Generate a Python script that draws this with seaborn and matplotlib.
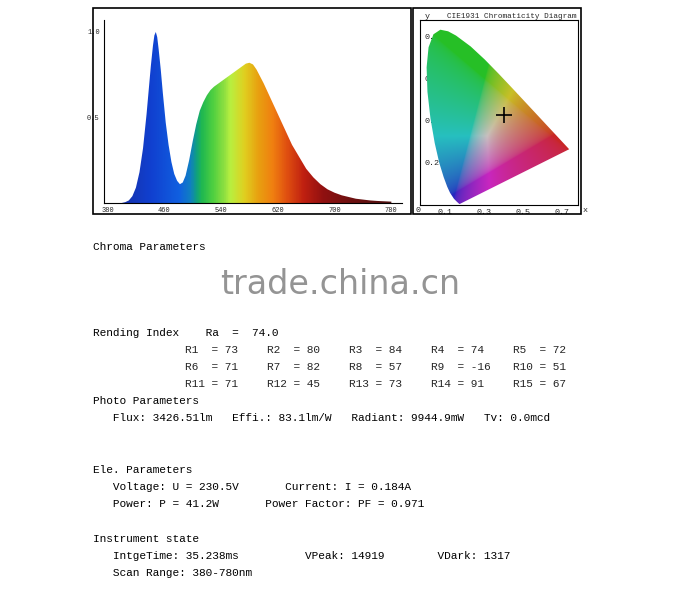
import numpy as np
import matplotlib
matplotlib.use("Agg")
import matplotlib.pyplot as plt
import seaborn as sns
from matplotlib.colors import LinearSegmentedColormap
from matplotlib.path import Path
from matplotlib.patches import Rectangle, PathPatch

sns.set_theme(style="white")
plt.rcParams['font.family'] = ['Liberation Mono', 'DejaVu Sans Mono']

# spectrum (relative intensity)
wavelength = [380, 400, 405, 410, 415, 420, 425, 430, 435, 438, 441, 444, 446, 448, 450, 452, 455, 458, 462,
              466, 470, 474, 478, 482, 486, 490, 495, 500, 505, 510, 515, 520, 525, 530, 540, 550, 560,
              570, 575, 580, 585, 590, 595, 600, 610, 620, 630, 640, 650, 660, 670, 680, 690, 700, 710,
              720, 730, 740, 750, 760, 770, 780]
intensity = [0.0, 0.0, 0.005, 0.015, 0.04, 0.09, 0.18, 0.32, 0.52, 0.66, 0.80, 0.92, 0.98, 1.0, 0.97, 0.90,
             0.78, 0.64, 0.47, 0.34, 0.24, 0.17, 0.13, 0.11, 0.12, 0.16, 0.25, 0.36, 0.46, 0.54, 0.59, 0.63,
             0.66, 0.68, 0.71, 0.74, 0.77, 0.80, 0.815, 0.82, 0.81, 0.78, 0.74, 0.70, 0.61, 0.52, 0.43, 0.34,
             0.27, 0.20, 0.15, 0.11, 0.08, 0.06, 0.045, 0.035, 0.025, 0.02, 0.015, 0.012, 0.01, 0.008]
spec_ticks = [380, 460, 540, 620, 700, 780]

# CIE 1931 spectral locus
locus_x = [0.1741, 0.1714, 0.1644, 0.1566, 0.1440, 0.1241, 0.1096, 0.0913, 0.0687, 0.0454, 0.0235, 0.0082,
           0.0039, 0.0139, 0.0389, 0.0743, 0.1142, 0.1547, 0.2296, 0.3016, 0.3731, 0.4441, 0.5125, 0.5752,
           0.6270, 0.6915, 0.7190, 0.7347]
locus_y = [0.0050, 0.0051, 0.0109, 0.0177, 0.0297, 0.0578, 0.0868, 0.1327, 0.2007, 0.2950, 0.4127, 0.5384,
           0.6548, 0.7502, 0.8120, 0.8338, 0.8262, 0.8059, 0.7543, 0.6923, 0.6245, 0.5547, 0.4866, 0.4242,
           0.3725, 0.3083, 0.2809, 0.2653]
point_xy = (0.40, 0.43)

fig = plt.figure(figsize=(6.8, 5.93), dpi=100)
W, H = 680, 593
def ax_at(l, t, r, b):
    return fig.add_axes([l / W, 1 - b / H, (r - l) / W, (b - t) / H])

for (l, t, r, b) in [(93, 8, 411, 214), (413, 8, 581, 214)]:
    fig.patches.append(Rectangle((l / W, 1 - b / H), (r - l) / W, (b - t) / H, transform=fig.transFigure,
                                 fill=False, ec='black', lw=1.2))

# spectrum
ax = ax_at(104, 20, 402, 203)
cmap = LinearSegmentedColormap.from_list('spec', [
    (0.0, '#1a2a9a'), (0.15, '#1040d0'), (0.25, '#1060e0'), (0.29, '#1080c0'), (0.31, '#10a080'),
    (0.33, '#20b850'), (0.37, '#50d040'), (0.41, '#90e040'), (0.43, '#b8f040'), (0.48, '#e0d020'),
    (0.53, '#e8a010'), (0.58, '#f08010'), (0.63, '#e05010'), (0.69, '#c02010'), (0.76, '#901010'),
    (0.85, '#701010'), (1.0, '#501010')])
grad = np.linspace(0, 1, 400).reshape(1, -1)
img = ax.imshow(grad, extent=[380, 780, 0, 1.07], aspect='auto', cmap=cmap, zorder=1)
clip = Path(np.vstack([np.column_stack([wavelength, intensity]), [[780, 0], [380, 0]]]))
pp = PathPatch(clip, transform=ax.transData, fc='none', ec='none')
ax.add_patch(pp)
img.set_clip_path(pp)
ax.set_xlim(375, 795)
ax.set_ylim(0, 1.07)
ax.set_xticks(spec_ticks)
ax.set_xticklabels([str(t) for t in spec_ticks], fontsize=5)
ax.set_yticks([0.5, 1.0])
ax.set_yticklabels(['0.5', '1.0'], fontsize=5)
ax.tick_params(length=2, pad=1)
for s in ['top', 'right']:
    ax.spines[s].set_visible(False)
for s in ['left', 'bottom']:
    ax.spines[s].set_color('black'); ax.spines[s].set_linewidth(0.8)

# CIE diagram
cx = ax_at(420, 20, 578, 205)
xs = np.linspace(0, 0.8, 300); ys = np.linspace(0.001, 0.9, 300)
X, Y = np.meshgrid(xs, ys)
Xc = X / Y; Zc = (1 - X - Y) / Y
R = 3.2406 * Xc - 1.5372 - 0.4986 * Zc
G = -0.9689 * Xc + 1.8758 + 0.0415 * Zc
B = 0.0557 * Xc - 0.2040 + 1.0570 * Zc
rgb = np.clip(np.stack([R, G, B], -1), 0, None)
rgb = rgb / rgb.max(axis=-1, keepdims=True).clip(1e-6)
rgb = np.clip(rgb, 0, 1) ** (1 / 2.2)
rgb = 0.75 * rgb * np.array([0.85, 0.8, 0.8]) + 0.25 * np.array([0.6, 0.6, 0.6])
im2 = cx.imshow(rgb, extent=[0, 0.8, 0.001, 0.9], origin='lower', aspect='auto', zorder=1)
lp = PathPatch(Path(np.column_stack([locus_x, locus_y])), transform=cx.transData, fc='none', ec='none')
cx.add_patch(lp)
im2.set_clip_path(lp)
cx.plot(point_xy[0], point_xy[1], marker='+', ms=12, mew=1.2, color='black', zorder=3)
cx.set_xlim(-0.03, 0.78); cx.set_ylim(0.0, 0.88)
cx.set_xticks([0.1, 0.3, 0.5, 0.7]); cx.set_xticklabels(['0.1', '0.3', '0.5', '0.7'], fontsize=6)
cx.set_yticks([0.2, 0.4, 0.6, 0.8]); cx.set_yticklabels(['0.2', '0.4', '0.6', '0.8'], fontsize=6)
cx.tick_params(axis='y', direction='in', pad=-14, length=2)
cx.tick_params(axis='x', length=2, pad=1)
for s in cx.spines.values():
    s.set_color('black'); s.set_linewidth(0.8)
fig.text(425 / W, 1 - 17 / H, 'y', fontsize=6, va='center')
fig.text(447 / W, 1 - 17 / H, 'CIE1931 Chromaticity Diagram', fontsize=5.5, va='center')
fig.text(415 / W, 1 - 211 / H, '0', fontsize=6, va='center')
fig.text(583 / W, 1 - 211 / H, 'x', fontsize=6, va='center')

# text block
fs = 8
lines = [
    (93, 247, 'Chroma Parameters'),
    (93, 333, 'Rending Index    Ra  =  74.0'),
    (93, 401, 'Photo Parameters'),
    (93, 418, '   Flux: 3426.51lm   Effi.: 83.1lm/W   Radiant: 9944.9mW   Tv: 0.0mcd'),
    (93, 470, 'Ele. Parameters'),
    (93, 487, '   Voltage: U = 230.5V       Current: I = 0.184A'),
    (93, 504, '   Power: P = 41.2W       Power Factor: PF = 0.971'),
    (93, 539, 'Instrument state'),
    (93, 556, '   IntgeTime: 35.238ms          VPeak: 14919        VDark: 1317'),
    (93, 573, '   Scan Range: 380-780nm'),
]
for x, y, s in lines:
    fig.text(x / W, 1 - y / H, s, fontsize=fs, va='center', color='black')
rvals = [['R1  = 73', 'R2  = 80', 'R3  = 84', 'R4  = 74', 'R5  = 72'],
         ['R6  = 71', 'R7  = 82', 'R8  = 57', 'R9  = -16', 'R10 = 51'],
         ['R11 = 71', 'R12 = 45', 'R13 = 73', 'R14 = 91', 'R15 = 67']]
for i, row in enumerate(rvals):
    for j, s in enumerate(row):
        fig.text((185 + 82 * j) / W, 1 - (350 + 17 * i) / H, s, fontsize=fs, va='center')
fig.text(340 / W, 1 - 285 / H, 'trade.china.cn', fontsize=24, ha='center', va='center',
         color='#888888', family='DejaVu Sans', alpha=0.9)

fig.savefig('out.png', dpi=100, facecolor='white')
